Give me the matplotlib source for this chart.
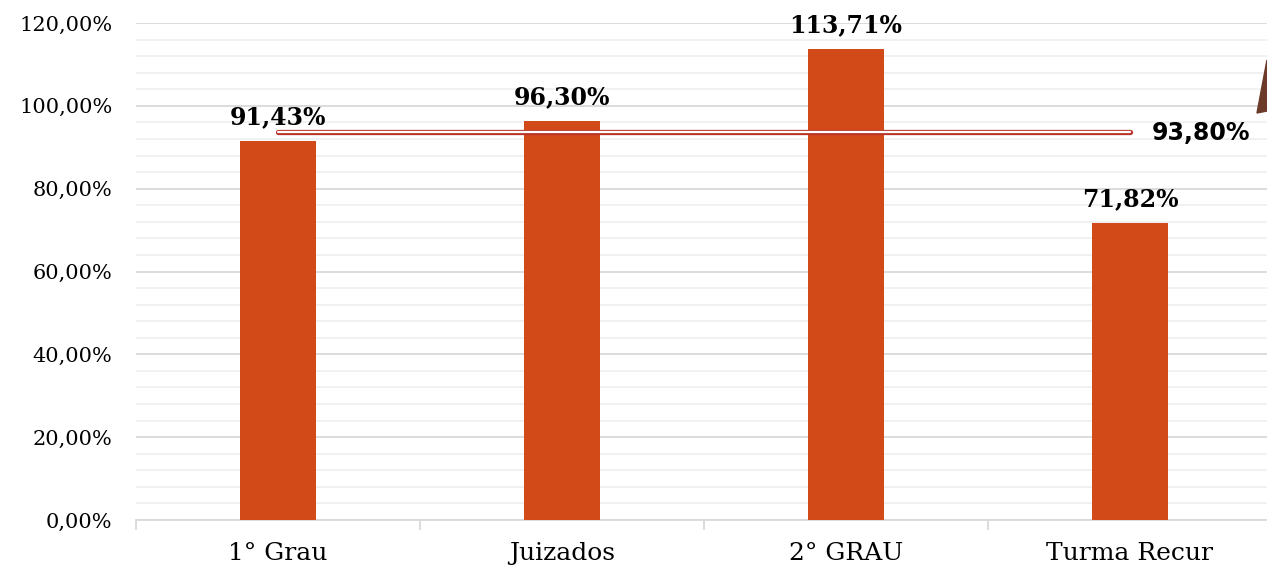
import matplotlib.pyplot as plt
from matplotlib.patches import Polygon
from matplotlib.ticker import MultipleLocator, FuncFormatter
import numpy as np

# Data
categories = ['1° Grau', 'Juizados', '2° GRAU', 'Turma Recur']
values = [91.43, 96.30, 113.71, 71.82]
value_labels = ['91,43%', '96,30%', '113,71%', '71,82%']
average = 93.80
average_label = '93,80%'

bar_color = '#D24A18'
serif = ['DejaVu Serif']

W, H = 1267, 569
fig = plt.figure(figsize=(W / 100, H / 100), dpi=100)
ax = fig.add_axes([136 / W, (H - 520) / H, 1136 / W, 497 / H])

x = np.arange(len(categories)) + 0.5
ax.bar(x, values, width=0.27, color=bar_color, zorder=3)

# average line: red outline with white core
ax.plot([x[0], x[-1]], [average, average], color='#B8322A', lw=3.8,
        solid_capstyle='round', zorder=4)
ax.plot([x[0], x[-1]], [average, average], color='white', lw=1.6,
        solid_capstyle='round', zorder=5)
ax.annotate(average_label, (x[-1], average), xytext=(16, -1),
            textcoords='offset points', ha='left', va='center',
            fontsize=17, fontweight='bold', family=['DejaVu Sans'])

for xi, v, lab in zip(x, values, value_labels):
    ax.annotate(lab, (xi, v), xytext=(0, 12), textcoords='offset points',
                ha='center', va='baseline', fontsize=17, fontweight='bold',
                family=serif)

ax.set_xlim(0, 4)
ax.set_ylim(0, 120)
ax.yaxis.set_major_locator(MultipleLocator(20))
ax.yaxis.set_minor_locator(MultipleLocator(4))
ax.yaxis.set_major_formatter(FuncFormatter(lambda v, p: f'{v:.2f}%'.replace('.', ',')))
ax.grid(axis='y', which='major', color='#D9D9D9', lw=1.3, zorder=0)
ax.grid(axis='y', which='minor', color='#F0F0F0', lw=1.3, zorder=0)
ax.tick_params(axis='y', which='both', length=0, pad=17, labelsize=15)
for t in ax.get_yticklabels():
    t.set_family(serif)

ax.set_xticks(x)
ax.set_xticklabels(categories, family=serif, fontsize=18)
ax.set_xticks(np.arange(0, 5), minor=True)
ax.tick_params(axis='x', which='major', length=0, pad=16)
ax.tick_params(axis='x', which='minor', length=7, color='#D9D9D9', width=1.3)

for s in ['top', 'right', 'left']:
    ax.spines[s].set_visible(False)
ax.spines['bottom'].set_color('#D9D9D9')
ax.spines['bottom'].set_linewidth(1.3)

# dark shape partly visible on the right edge
fig.patches.append(Polygon([(1257 / W, 1 - 113 / H), (1267 / W, 1 - 60 / H),
                            (1267 / W, 1 - 111 / H)], closed=True,
                           transform=fig.transFigure, color='#6B3A2A'))

fig.savefig('out.png', dpi=100)
